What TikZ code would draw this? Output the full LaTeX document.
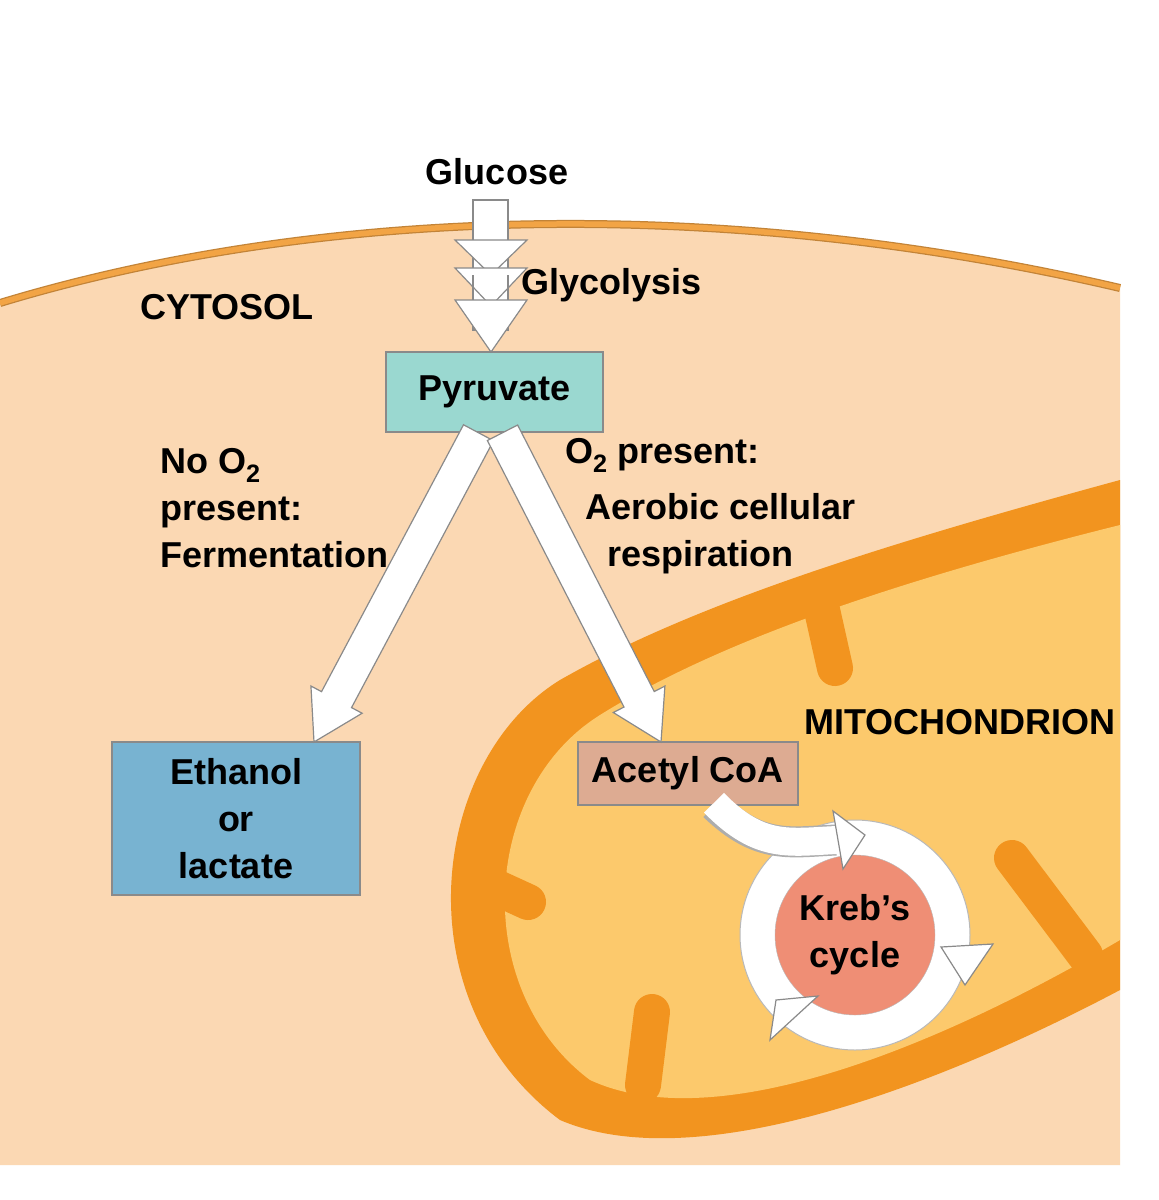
\documentclass[tikz,border=0pt]{standalone}
\usepackage{fontspec}
\setmainfont{Liberation Sans}
\usetikzlibrary{calc}
\definecolor{peach}{HTML}{FBD8B3}
\definecolor{morange}{HTML}{F2941F}
\definecolor{myellow}{HTML}{FCC96C}
\definecolor{memb}{HTML}{F2A445}
\definecolor{pyr}{HTML}{9AD8D0}
\definecolor{eth}{HTML}{78B3D1}
\definecolor{acet}{HTML}{DDAB92}
\definecolor{kreb}{HTML}{EF8E75}
\definecolor{outl}{HTML}{8A8A8A}
\newcommand\fatarr[2]{%
  \coordinate (fatH) at ($(#2)!48pt!(#1)$);
  \filldraw[wa] ($(#1)!17pt!90:(#2)$) -- ($(fatH)!17pt!90:(#2)$) -- ($(fatH)!29pt!90:(#2)$) -- (#2)
    -- ($(fatH)!29pt!-90:(#2)$) -- ($(fatH)!17pt!-90:(#2)$) -- ($(#1)!17pt!-90:(#2)$) -- cycle;}
\begin{document}
\begin{tikzpicture}[x=1pt,y=-1pt,
  lbl/.style={font=\bfseries\fontsize{36}{47}\selectfont,inner sep=0pt},
  box/.style={draw=outl,line width=1.5pt,inner sep=0pt},
  wa/.style={fill=white,draw=outl,line width=1.2pt,line join=miter},
  crista/.style={morange,line width=36pt,line cap=round}]
\useasboundingbox (0,0) rectangle (1159,1200);
\fill[white] (0,0) rectangle (1159,1200);
% cell
\fill[peach] (0,303) .. controls (300,212) and (700,190) .. (1120,288) -- (1120,1165) -- (0,1165) -- cycle;
\draw[memb!80!black,line width=8pt] (0,303) .. controls (300,212) and (700,190) .. (1120,288);
\draw[memb,line width=5.5pt] (0,303) .. controls (300,212) and (700,190) .. (1120,288);
% mitochondrion
\fill[morange] (1120,480) .. controls (900,540) and (700,600) .. (560,680) .. controls (430,760) and (400,1000) .. (560,1120) .. controls (700,1180) and (950,1080) .. (1120,990) -- cycle;
\fill[myellow] (1120,525) .. controls (900,580) and (720,640) .. (600,715) .. controls (480,790) and (470,990) .. (590,1080) .. controls (720,1140) and (950,1040) .. (1120,940) -- cycle;
\draw[crista] (822,610) -- (835,668);
\draw[crista] (480,880) -- (528,902);
\draw[crista] (643,1085) -- (652,1012);
\draw[crista] (1085,955) -- (1012,858);
% boxes
\node[box,fill=pyr,minimum width=217pt,minimum height=80pt,lbl] (pyr) at (494.5,392) {Pyruvate};
\node[box,fill=eth,minimum width=248pt,minimum height=153pt,align=center,lbl] (eth) at (236,818.5) {Ethanol\\or\\lactate};
\node[box,fill=acet,minimum width=220pt,minimum height=63pt,lbl] (acet) at (688,773.5) {Acetyl CoA};
% glycolysis arrows
\filldraw[wa] (473,200) rectangle (508,330);
\filldraw[wa] (455,240) -- (527,240) -- (491,275) -- cycle;
\filldraw[wa] (455,268) -- (527,268) -- (491,306) -- cycle;
\filldraw[wa] (455,300) -- (527,300) -- (491,352) -- cycle;
\draw[outl,line width=1.2pt] (473,275) -- (473,300) (508,275) -- (508,300);
% branch arrows
\coordinate (fs) at ($(pyr.south)+(-16,0)$); \coordinate (fe) at (314,742);
\coordinate (as) at ($(pyr.south)+(8,0)$); \coordinate (ae) at (661,742);
\fatarr{fs}{fe}
\fatarr{as}{ae}
% Krebs cycle
\coordinate (kc) at (855,935);
\fill[white,draw=outl!60,line width=1pt] (kc) circle (115);
\node[circle,fill=kreb,draw=outl!60,minimum size=160pt,inner sep=0pt,align=center,lbl] (kreb) at (kc) {Kreb’s\\cycle};
% feed arrow
\draw[outl!70,line width=31pt] ($(acet.south)+(26,0)$) .. controls (760,850) and (790,842) .. (836,840);
\draw[white,line width=28pt] ($(acet.south)+(26,-3)$) .. controls (760,850) and (790,842) .. (837,840);
\filldraw[wa] (833,811) -- (865,835) -- (843,869) -- cycle;
\filldraw[wa] (941,947) -- (993,944) -- (965,985) -- cycle;
\filldraw[wa] (776,1000) -- (818,996) -- (770,1040) -- cycle;
% labels
\node[lbl] (glucose) at (497,172) {Glucose};
\node[lbl,anchor=west] (glyc) at (521,285) {Glycolysis};
\node[lbl] (cyto) at (227,307) {CYTOSOL};
\node[lbl,anchor=north west,align=left] (ferm) at (160,448)
  {No O\textsubscript{2}\\present:\\Fermentation};
\node[lbl,anchor=west] (o2) at (565,455) {O\textsubscript{2} present:};
\node[lbl,anchor=west] (aer) at (585,507) {Aerobic cellular};
\node[lbl,anchor=west] (resp) at (607,557) {respiration};
\node[lbl] (mito) at (960,722) {MITOCHONDRION};
\end{tikzpicture}
\end{document}
